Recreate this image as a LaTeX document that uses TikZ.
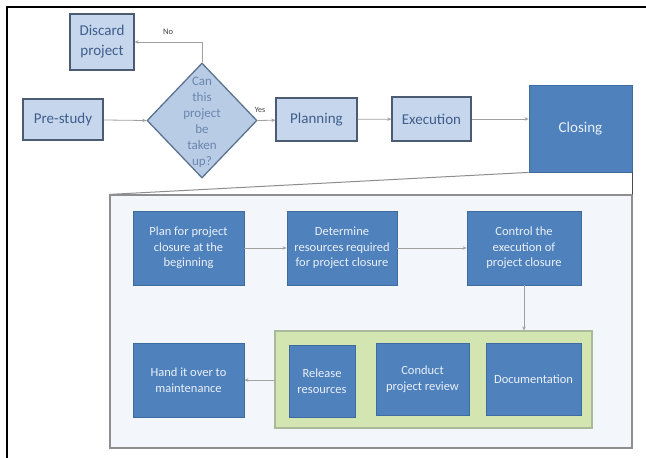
\documentclass[tikz,border=0pt]{standalone}
\usepackage{fontspec}
\setmainfont{Carlito}
\usetikzlibrary{shapes.geometric,arrows.meta}
\definecolor{lightfill}{HTML}{C6D6EC}
\definecolor{lightdraw}{HTML}{4A5B72}
\definecolor{lighttext}{HTML}{3F5E8C}
\definecolor{diafill}{HTML}{B9CCE6}
\definecolor{diadraw}{HTML}{5C7390}
\definecolor{diatext}{HTML}{6A86AE}
\definecolor{darkfill}{HTML}{4F81BD}
\definecolor{darkdraw}{HTML}{3E6BA0}
\definecolor{darktext}{HTML}{EAF0F8}
\definecolor{greenfill}{HTML}{D3E6B2}
\definecolor{greendraw}{HTML}{A9B99A}
\definecolor{panelfill}{HTML}{F3F7FB}
\definecolor{paneldraw}{HTML}{8E8E8E}
\definecolor{arrcol}{HTML}{A0A0A0}
\begin{document}
\begin{tikzpicture}[x=1pt,y=-1pt,
  lightbox/.style={draw=lightdraw,line width=1.3pt,fill=lightfill,text=lighttext,inner sep=0pt,align=center,font=\fontsize{15}{20}\selectfont},
  darkbox/.style={draw=darkdraw,line width=0.8pt,fill=darkfill,text=darktext,inner sep=0pt,align=center,font=\fontsize{12.5}{15.5}\selectfont},
  arr/.style={draw=arrcol,line width=0.8pt,-{Stealth[length=4pt,width=3.5pt]}},
  lbl/.style={font=\fontsize{8.5}{10}\selectfont,text=black!75,inner sep=0pt}]
\useasboundingbox (0,0) rectangle (646,458);
\fill[white] (0,0) rectangle (646,458);
% outer frame
\draw[line width=2pt] (7,458) -- (7,7) -- (646,7);
% top row
\node[lightbox,minimum width=64pt,minimum height=56pt] (disc) at (102,42) {Discard\\project};
\node[lightbox,minimum width=80pt,minimum height=41pt] (pre) at (63,119.5) {Pre-study};
\node[draw=diadraw,line width=1.3pt,fill=diafill,diamond,minimum width=110pt,minimum height=115pt,inner sep=0pt] (dia) at (202,120.5) {};
\node[align=center,text=diatext,font=\fontsize{13}{16}\selectfont,inner sep=0pt] (diat) at (202,122) {Can\\this\\project\\be\\taken\\up?};
\node[lightbox,minimum width=81pt,minimum height=43pt] (plan) at (316.5,119.5) {Planning};
\node[lightbox,minimum width=79pt,minimum height=44pt] (exec) at (431.5,119) {Execution};
\node[draw=darkdraw,line width=0.8pt,fill=darkfill,text=darktext,inner sep=0pt,minimum width=103pt,minimum height=87pt,font=\fontsize{15}{18}\selectfont] (clos) at (580.5,128.5) {Closing};
\draw[arr] (pre) -- (dia.west);
\draw[arr] (dia.east) -- (plan);
\draw[arr] (plan) -- (exec);
\draw[arr] (exec) -- (clos.west |- exec);
\draw[arr] (dia.north) |- (disc.east);
\node[lbl] (no) at (168,32) {No};
\node[lbl,font=\fontsize{8}{9}\selectfont] (yes) at (260,110) {Yes};
% panel
\node[draw=paneldraw,line width=1.2pt,fill=panelfill,minimum width=522pt,minimum height=253pt,inner sep=0pt] (panel) at (371,321.5) {};
\draw[draw=paneldraw,line width=1pt] (panel.north west) -- (clos.south west);
\draw[draw=black!70,line width=0.8pt] (clos.south east) -- (panel.north east);
% inner boxes
\node[darkbox,minimum width=111pt,minimum height=74pt] (pfc) at (188.5,248) {Plan for project\\closure at the\\beginning};
\node[darkbox,minimum width=110pt,minimum height=74pt] (det) at (342,248) {Determine\\resources required\\for project closure};
\node[darkbox,minimum width=114pt,minimum height=74pt] (ctl) at (524,248) {Control the\\execution of\\project closure};
\node[draw=greendraw,line width=1.2pt,fill=greenfill,minimum width=317pt,minimum height=97pt,inner sep=0pt] (grp) at (433.5,379.5) {};
\node[darkbox,minimum width=111pt,minimum height=74pt] (hand) at (188.5,380) {Hand it over to\\maintenance};
\node[darkbox,minimum width=66pt,minimum height=72pt] (rel) at (322,381) {Release\\resources};
\node[darkbox,minimum width=93pt,minimum height=72pt] (rev) at (422.5,379) {Conduct\\project review};
\node[darkbox,minimum width=95pt,minimum height=72pt] (doc) at (533.5,379) {Documentation};
\draw[arr] (pfc) -- (det);
\draw[arr] (det) -- (ctl);
\draw[arr] (ctl.south) -- (ctl.south |- grp.north);
\draw[arr] (grp.west |- hand.east) -- (hand.east);
\end{tikzpicture}
\end{document}
